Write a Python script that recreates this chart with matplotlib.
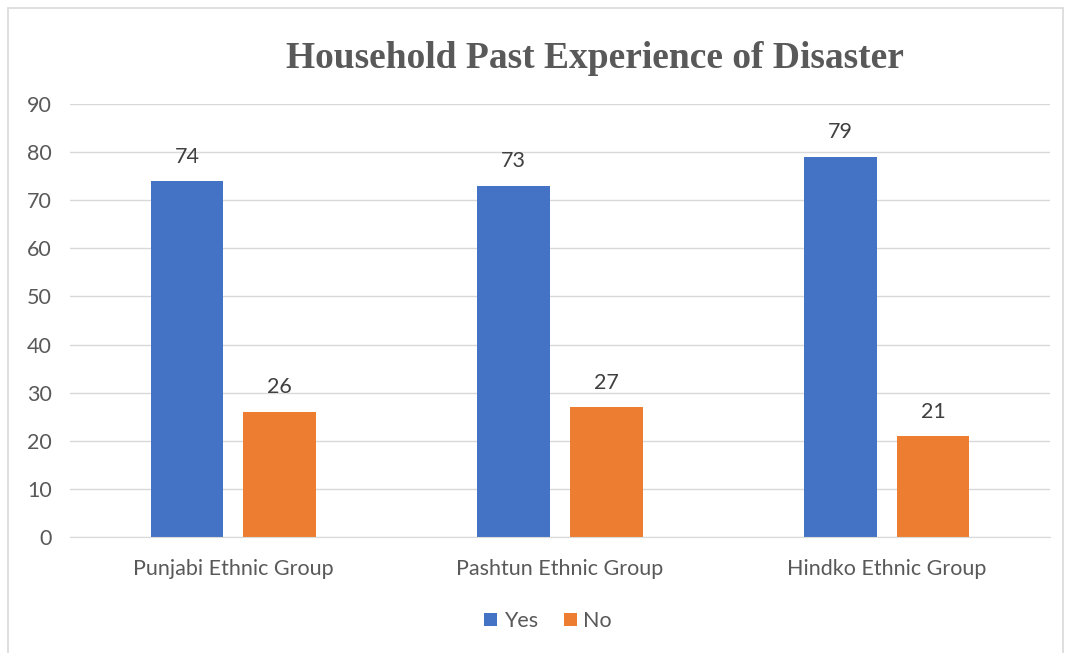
import numpy as np
import matplotlib.pyplot as plt

# Share of households that have lived through a disaster, by ethnic group
groups = ['Punjabi Ethnic Group', 'Pashtun Ethnic Group', 'Hindko Ethnic Group']
yes_vals = [74, 73, 79]
no_vals = [26, 27, 21]
y_ticks = [0, 10, 20, 30, 40, 50, 60, 70, 80, 90]

blue = '#4472C4'
orange = '#ED7D31'
txt = '#595959'

plt.rcParams['font.family'] = ['Lato', 'DejaVu Sans']

fig = plt.figure(figsize=(10.71, 6.53), dpi=100)
ax = fig.add_axes([70 / 1071, 116 / 653, 980 / 1071, 433 / 653])

x = np.arange(len(groups))
w = 0.223
off = 0.142
b1 = ax.bar(x - off, yes_vals, w, color=blue, label='Yes', zorder=3)
b2 = ax.bar(x + off, no_vals, w, color=orange, label='No', zorder=3)

for bars, vals in ((b1, yes_vals), (b2, no_vals)):
    for rect, v in zip(bars, vals):
        ax.text(rect.get_x() + rect.get_width() / 2, v + 3.0, str(v),
                ha='center', va='bottom', fontsize=15.5, color='#404040')

ax.set_xlim(-0.5, 2.5)
ax.set_ylim(0, 90)
ax.set_yticks(y_ticks)
ax.set_xticks(x)
ax.set_xticklabels(groups)
ax.yaxis.grid(True, color='#d9d9d9', linewidth=1, zorder=0)
ax.tick_params(axis='both', length=0, labelsize=15.5, labelcolor=txt)
ax.tick_params(axis='x', pad=16)
ax.tick_params(axis='y', pad=13)
for s in ['top', 'right', 'left']:
    ax.spines[s].set_visible(False)
ax.spines['bottom'].set_color('#d9d9d9')
ax.spines['bottom'].set_zorder(4)

fig.text(595 / 1071, 1 - 58 / 653, 'Household Past Experience of Disaster',
         ha='center', va='center', fontsize=27, fontweight='bold',
         color=txt, family='Liberation Serif')

ax.legend(loc='center', bbox_to_anchor=(548 / 1071, 1 - 621 / 653),
          bbox_transform=fig.transFigure, ncol=2, frameon=False,
          fontsize=15.5, labelcolor=txt, handlelength=0.6, handleheight=0.6,
          handletextpad=0.3, columnspacing=1.2)

# outer chart border
fig.patches.append(plt.Rectangle((8 / 1071, -0.01), 1055 / 1071, 1 - 8 / 653 + 0.01,
                                 transform=fig.transFigure, fill=False,
                                 edgecolor='#d9d9d9', linewidth=1.2))

fig.savefig('out.png', dpi=100)
